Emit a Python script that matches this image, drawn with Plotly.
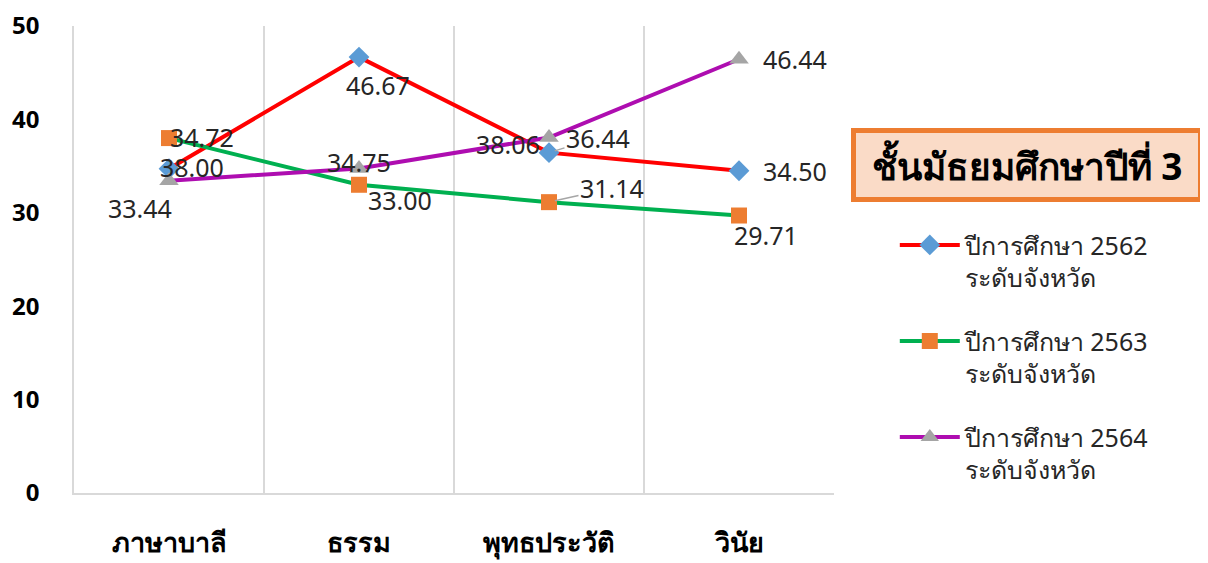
import plotly.graph_objects as go

# ── Data ──────────────────────────────────────────────────────────────────────
subjects = ["ภาษาบาลี", "ธรรม", "พุทธประวัติ", "วินัย"]
series_names = [
    "ปีการศึกษา 2562<br>ระดับจังหวัด",
    "ปีการศึกษา 2563<br>ระดับจังหวัด",
    "ปีการศึกษา 2564<br>ระดับจังหวัด",
]
y2562 = [34.72, 46.67, 36.44, 34.50]
y2563 = [38.00, 33.00, 31.14, 29.71]
y2564 = [33.44, 34.75, 38.06, 46.44]
y_ticks = [0, 10, 20, 30, 40, 50]
title_text = "ชั้นมัธยมศึกษาปีที่ 3"

# ── Styles ────────────────────────────────────────────────────────────────────
LINE_COLORS = ["#FF0000", "#00B050", "#AE0DB0"]
MARKERS = [
    dict(symbol="diamond", size=16, color="#5B9BD5"),
    dict(symbol="square", size=16, color="#ED7D31"),
    dict(symbol="triangle-up", size=17, color="#A5A5A5"),
]
# label offsets (px) for each point: (dx, dy), dy positive = up
OFFSETS = [
    [(33, 32), (19, -28), (49, 15), (56, 0)],
    [(23, -29), (41, -15), (63, 14), (27, -19)],
    [(-29, -27), (0, 6), (-41, -6), (56, 0)],
]
LEADER = {(0, 2), (1, 2)}
LABEL_FONT = dict(family="Noto Sans, Open Sans, sans-serif", size=25, color="#262626")
GRID = "#D9D9D9"

fig = go.Figure()
all_series = [y2562, y2563, y2564]
for i, (name, ys) in enumerate(zip(series_names, all_series)):
    fig.add_trace(go.Scatter(
        x=subjects, y=ys, name=name,
        mode="lines+markers",
        line=dict(color=LINE_COLORS[i], width=4),
        marker=MARKERS[i],
        legendgroup=str(i),
    ))
    for j, (sub, v) in enumerate(zip(subjects, ys)):
        dx, dy = OFFSETS[i][j]
        if (i, j) in LEADER:
            fig.add_annotation(
                x=sub, y=v, text=f"{v:.2f}", font=LABEL_FONT,
                showarrow=True, arrowhead=0, arrowwidth=1.5, arrowcolor="#A6A6A6",
                ax=dx, ay=-dy, standoff=6,
            )
        else:
            fig.add_annotation(
                x=sub, y=v, text=f"{v:.2f}", font=LABEL_FONT,
                showarrow=False, xshift=dx, yshift=dy,
            )

fig.add_annotation(
    text=f"<b>{title_text}</b>",
    xref="paper", yref="paper", x=1.254, y=0.702,
    xanchor="center", yanchor="middle",
    showarrow=False,
    font=dict(family="Noto Sans, sans-serif", size=37, color="#000000"),
    bgcolor="#FADBC7", bordercolor="#ED7D31", borderwidth=5, borderpad=2,
    width=338, height=60,
)

# page body has an 8px margin, so the figure is 8px smaller than the window
fig.update_layout(
    width=1200, height=555,
    paper_bgcolor="white", plot_bgcolor="white",
    margin=dict(l=66, r=374, t=18, b=70, autoexpand=False),
    showlegend=True,
    legend=dict(
        x=1.08, xanchor="left", y=0.58, yanchor="top",
        font=dict(family="Noto Sans, sans-serif", size=25, color="#262626"),
        valign="top", tracegroupgap=28, itemwidth=60,
        bgcolor="rgba(0,0,0,0)",
    ),
    xaxis=dict(
        type="category", tickson="boundaries", range=[-0.5, 3.5],
        showgrid=True, gridcolor=GRID, gridwidth=1.5,
        showline=True, linecolor=GRID, linewidth=1.5,
        ticks="", ticklabelstandoff=25, automargin=False,
        tickfont=dict(family="Noto Sans, sans-serif", size=27, color="#000000", weight="bold"),
    ),
    yaxis=dict(
        range=[0, 50], tickvals=y_ticks,
        showgrid=False, zeroline=False,
        showline=True, linecolor=GRID, linewidth=1.5,
        ticks="", ticklabelstandoff=28, automargin=False, ticklabeloverflow="allow",
        tickfont=dict(family="Noto Sans, sans-serif", size=24, color="#000000", weight="bold"),
    ),
)

fig.write_html("out.html")
